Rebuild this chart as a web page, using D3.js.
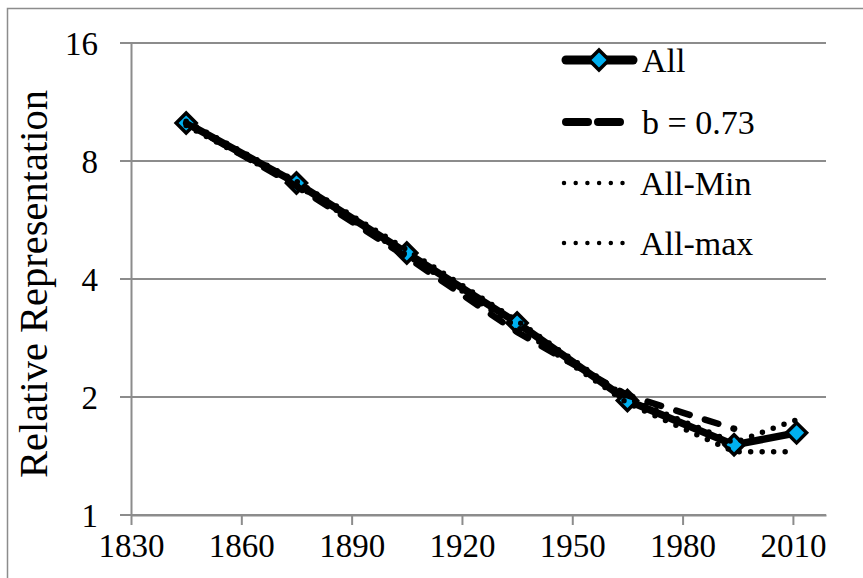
<!DOCTYPE html>
<html><head><meta charset="utf-8"><script src="https://cdn.jsdelivr.net/npm/d3@7"></script></head>
<body style="margin:0">
<div id="vis"></div>
<script>
// Dimensiones del gráfico
const ancho = 863;
const alto = 578;
const margen = { superior: 43, derecho: 37, inferior: 63, izquierdo: 131 };
const fuente = '"Liberation Serif"';

// Datos
const anios = [1845, 1875, 1905, 1935, 1965, 1994, 2011];
const aniosB = [1845, 1875, 1905, 1935, 1965, 1994];
const valoresAll = [10.0, 7.03, 4.66, 3.09, 1.96, 1.51, 1.62];
const valoresB = [10.0, 6.9, 4.55, 2.93, 2.02, 1.66];
const valoresMin = [10.1, 7.1, 4.75, 3.13, 1.99, 1.53, 1.75];
const valoresMax = [9.85, 6.95, 4.6, 3.02, 1.93, 1.45, 1.45];
const ticksX = [1830, 1860, 1890, 1920, 1950, 1980, 2010];
const ticksY = [1, 2, 4, 8, 16];
const nombres = ["All", "b = 0.73", "All-Min", "All-max"];

const azul = "#00B0F0";
const gris = "#8c8c8c";

const svg = d3.select("#vis")
  .append("svg")
  .attr("width", ancho)
  .attr("height", alto);

// Marco exterior
svg.append("rect")
  .attr("x", 7.5)
  .attr("y", 8.5)
  .attr("width", ancho + 20)
  .attr("height", alto + 20)
  .attr("fill", "white")
  .attr("stroke", gris)
  .attr("stroke-width", 1.5);

// Escalas
const escalaX = d3.scaleLinear()
  .domain([1830, 2019])
  .range([margen.izquierdo, ancho - margen.derecho]);

const escalaY = d3.scaleLog()
  .base(2)
  .domain([1, 16])
  .range([alto - margen.inferior, margen.superior]);

// Rejilla horizontal
svg.append("g")
  .selectAll("line")
  .data(ticksY)
  .enter()
  .append("line")
  .attr("x1", margen.izquierdo - 11)
  .attr("x2", ancho - margen.derecho)
  .attr("y1", d => escalaY(d))
  .attr("y2", d => escalaY(d))
  .attr("stroke", gris)
  .attr("stroke-width", 2);

// Eje Y
const ejeY = svg.append("g")
  .attr("transform", `translate(${margen.izquierdo},0)`)
  .call(d3.axisLeft(escalaY).tickValues(ticksY).tickFormat(d3.format("d")).tickSize(0).tickPadding(33));
ejeY.select("path.domain")
  .attr("stroke", gris)
  .attr("stroke-width", 2);
ejeY.selectAll("text")
  .style("font-family", fuente)
  .style("font-size", "33px")
  .attr("fill", "black")
  .attr("dy", "0.34em");

// Eje X
const ejeX = svg.append("g")
  .attr("transform", `translate(0,${alto - margen.inferior})`)
  .call(d3.axisBottom(escalaX).tickValues(ticksX).tickFormat(d3.format("d")).tickSize(10).tickPadding(9).tickSizeOuter(0));
ejeX.select("path.domain")
  .attr("stroke", gris)
  .attr("stroke-width", 2);
ejeX.selectAll("line")
  .attr("stroke", gris)
  .attr("stroke-width", 2);
ejeX.selectAll("text")
  .style("font-family", fuente)
  .style("font-size", "33px")
  .attr("fill", "black");

// Título del eje Y
svg.append("text")
  .attr("transform", `translate(33,284) rotate(-90)`)
  .attr("text-anchor", "middle")
  .attr("dy", "0.35em")
  .style("font-family", fuente)
  .style("font-size", "40.5px")
  .text("Relative Representation");

// Generador de línea
const linea = d3.line()
  .x(d => escalaX(d[0]))
  .y(d => escalaY(d[1]));

const serie = (xs, ys) => xs.map((x, i) => [x, ys[i]]);

const puntosAll = serie(anios, valoresAll);

// Serie All
svg.append("path")
  .attr("d", linea(puntosAll))
  .attr("fill", "none")
  .attr("stroke", "black")
  .attr("stroke-width", 7.5)
  .attr("stroke-linejoin", "round");

const diamante = d3.symbol().type(d3.symbolSquare).size(200);

svg.selectAll(".punto")
  .data(puntosAll)
  .enter()
  .append("path")
  .attr("class", "punto")
  .attr("d", diamante)
  .attr("transform", d => `translate(${escalaX(d[0])},${escalaY(d[1])}) rotate(45)`)
  .attr("fill", azul)
  .attr("stroke", "black")
  .attr("stroke-width", 3.5)
  .attr("stroke-linejoin", "miter");

// Serie b = 0.73
svg.append("path")
  .attr("d", linea(serie(aniosB, valoresB)))
  .attr("fill", "none")
  .attr("stroke", "black")
  .attr("stroke-width", 6.5)
  .attr("stroke-linecap", "round")
  .attr("stroke-dasharray", "14,16");

// Series punteadas
[valoresMin, valoresMax].forEach(vals => {
  svg.append("path")
    .attr("d", linea(serie(anios, vals)))
    .attr("fill", "none")
    .attr("stroke", "black")
    .attr("stroke-width", 5.5)
    .attr("stroke-linecap", "round")
    .attr("stroke-dasharray", "0,11.5");
});

// Leyenda
const leyenda = svg.append("g");
const filasY = [60, 122, 183, 243];

leyenda.selectAll("text")
  .data(nombres)
  .enter()
  .append("text")
  .attr("x", (d, i) => i < 2 ? 642 : 640)
  .attr("y", (d, i) => filasY[i])
  .attr("dy", "0.35em")
  .style("font-family", fuente)
  .style("font-size", "34px")
  .text(d => d);

leyenda.append("line")
  .attr("x1", 566).attr("x2", 633)
  .attr("y1", filasY[0]).attr("y2", filasY[0])
  .attr("stroke", "black")
  .attr("stroke-width", 9)
  .attr("stroke-linecap", "round");

leyenda.append("path")
  .attr("d", diamante)
  .attr("transform", `translate(599,${filasY[0]}) rotate(45)`)
  .attr("fill", azul)
  .attr("stroke", "black")
  .attr("stroke-width", 3.5);

leyenda.append("line")
  .attr("x1", 566).attr("x2", 630)
  .attr("y1", filasY[1]).attr("y2", filasY[1])
  .attr("stroke", "black")
  .attr("stroke-width", 8)
  .attr("stroke-linecap", "round")
  .attr("stroke-dasharray", "22,10");

[2, 3].forEach(i => {
  leyenda.append("line")
    .attr("x1", 564).attr("x2", 630)
    .attr("y1", filasY[i]).attr("y2", filasY[i])
    .attr("stroke", "black")
    .attr("stroke-width", 4.5)
    .attr("stroke-linecap", "round")
    .attr("stroke-dasharray", "0,11.7");
});
</script>
</body>
</html>
